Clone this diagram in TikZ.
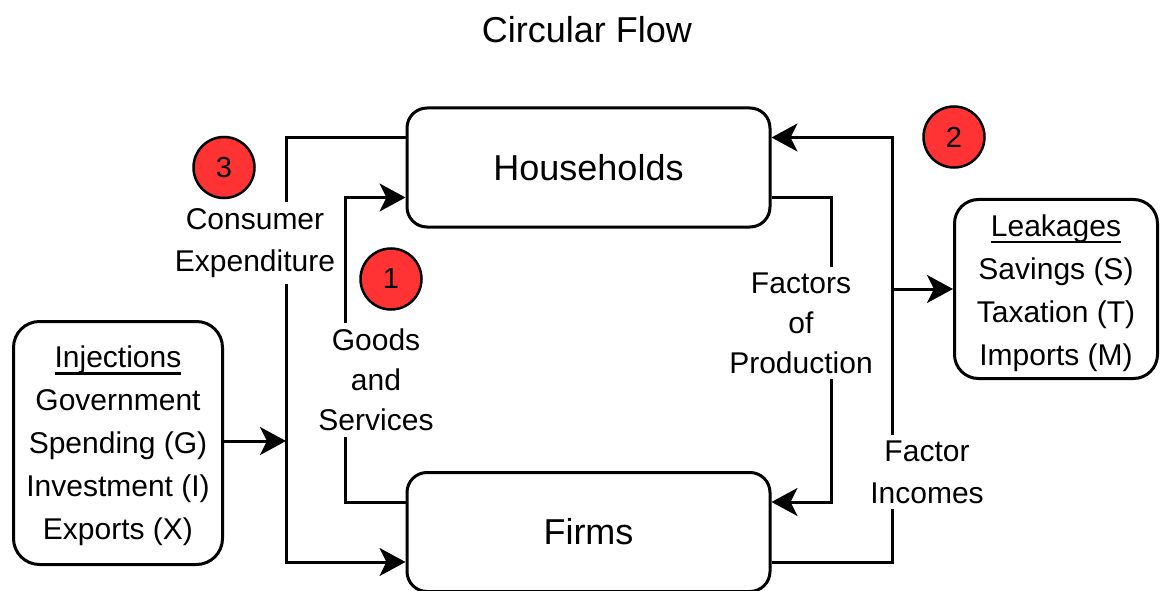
\documentclass[tikz,border=0pt]{standalone}
\usepackage{fontspec}
\setmainfont{Liberation Sans}
\usetikzlibrary{arrows.meta,calc}
\definecolor{badgered}{HTML}{FF3333}
\newcommand\ulin[1]{\setbox0\hbox{#1}\rlap{\rule[-7pt]{\wd0}{2.4pt}}\box0}
\begin{document}
\begin{tikzpicture}[x=1pt,y=-1pt,
  conn/.style={line width=3pt, -{Stealth[length=26pt,width=28pt,inset=7pt]}},
  box/.style={draw, line width=3pt, rounded corners=20pt, minimum width=363pt, minimum height=119pt, inner sep=0pt, font=\fontsize{36}{43}\selectfont},
  side/.style={draw, line width=3pt, rounded corners=26pt, align=center, inner sep=0pt, font=\fontsize{30}{43}\selectfont},
  lbl/.style={fill=white, inner xsep=1pt, inner ysep=6pt, align=center, font=\fontsize{30}{40}\selectfont},
  lbltwo/.style={lbl, font=\fontsize{30}{42}\selectfont},
  badge/.style={circle, draw, line width=2.5pt, fill=badgered, minimum size=61pt, inner sep=0pt, font=\fontsize{29}{32}\selectfont}
]
\useasboundingbox (0,0) rectangle (1160,591);

\node[font=\fontsize{36}{43}\selectfont] (title) at (587,30) {Circular Flow};

\node[box] (hh) at (588.5,167.5) {Households};
\node[box] (fm) at (588.5,532) {Firms};

\node[side, minimum width=209pt, minimum height=243pt] (inj) at (118,443)
  {\rule{0pt}{28pt}\ulin{Injections}\\Government\\Spending (G)\\Investment (I)\\Exports (X)};
\node[side, rounded corners=24pt, minimum width=203pt, minimum height=179pt] (lk) at (1056,289)
  {\rule{0pt}{30pt}\ulin{Leakages}\\Savings (S)\\Taxation (T)\\Imports (M)};

\coordinate (cx) at (286,441);
\coordinate (gx) at (345,320);
\coordinate (fx) at (831,320);
\coordinate (ix) at (892,471);

% Consumer expenditure
\draw[conn] ([yshift=30pt]hh.west) -| (cx) |- ([yshift=-30pt]fm.west);
% Injections
\draw[conn] (inj.east |- cx) -- (cx);
% Goods and services
\draw[conn] ([yshift=30pt]fm.west) -| (gx) |- ([yshift=-30pt]hh.west);
% Factors of production
\draw[conn] ([yshift=-30pt]hh.east) -| (fx) |- ([yshift=30pt]fm.east);
% Factor incomes
\draw[conn] ([yshift=-30pt]fm.east) -| (ix) |- ([yshift=30pt]hh.east);
% Leakages
\draw[conn] (ix |- lk.west) -- (lk.west);

\node[lbltwo] (celbl) at (255,243) {Consumer\\Expenditure};
\node[lbl] (gslbl) at (376,380) {Goods\\and\\Services};
\node[lbl] (fplbl) at (801,323) {Factors\\of\\Production};
\node[lbltwo] (filbl) at (927,472) {Factor\\Incomes};

\node[badge] (b3) at (224,167.5) {3};
\node[badge] (b1) at (391,279) {1};
\node[badge] (b2) at (954,137) {2};
\end{tikzpicture}
\end{document}
